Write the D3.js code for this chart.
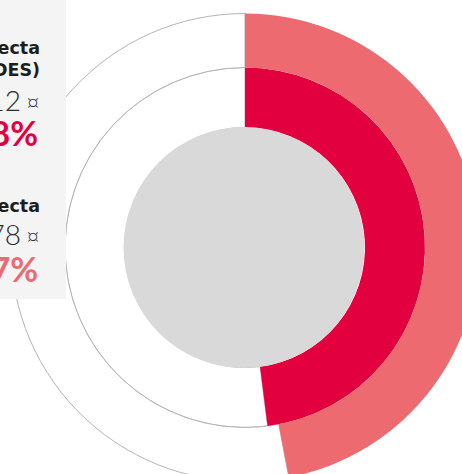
<!DOCTYPE html>
<html>
<head>
<meta charset="utf-8">
<script src="https://cdn.jsdelivr.net/npm/d3@7"></script>
<style>
  html, body { margin: 0; padding: 0; background: #fff; overflow: hidden; }
  svg { display: block; }
  text { font-family: Lato, "Open Sans", sans-serif; }
</style>
</head>
<body>
<div id="chart"></div>
<script>
// series drawn from the inside ring outwards
const seriesNames = ['Inversión directa (FONDES)', 'Inversión indirecta'];
const labelLines = [['Inversión directa', '(FONDES)'], ['Inversión indirecta']];
const amounts = ['1.245.312', '1.219.878'];
const currency = '¤';
const shares = [48, 47];
const colors = ['#e3003f', '#ec6a70'];

const width = 462, height = 474;
const cx = 245, cy = 247.5;
const ringRadii = [[120, 180], [180, 234]];
const holeRadius = 120.5;

const svg = d3.select('#chart').append('svg')
  .attr('width', width)
  .attr('height', height);

const angle = d3.scaleLinear().domain([0, 100]).range([0, 2 * Math.PI]);
const arc = d3.arc();

const g = svg.append('g').attr('transform', `translate(${cx},${cy})`);

shares.forEach((v, i) => {
  const [r0, r1] = ringRadii[i];
  // remaining part of the ring (track)
  g.append('path')
    .attr('d', arc({ innerRadius: r0, outerRadius: r1, startAngle: angle(v), endAngle: angle(100) }))
    .attr('fill', '#fff')
    .attr('stroke', '#b4b4b4')
    .attr('stroke-width', 1);
});

shares.forEach((v, i) => {
  const [r0, r1] = ringRadii[i];
  g.append('path')
    .attr('d', arc({ innerRadius: r0, outerRadius: r1, startAngle: angle(0), endAngle: angle(v) }))
    .attr('fill', colors[i]);
});

g.append('circle').attr('cx', -1).attr('r', holeRadius).attr('fill', '#d9d9d9');

// legend panel
const legend = svg.append('g');
legend.append('rect')
  .attr('x', -300).attr('y', -10)
  .attr('width', 366).attr('height', 309)
  .attr('fill', '#f4f4f4');

const tx = 40;
const blocks = [
  { lines: [54, 76], amount: 111, pct: 146 },
  { lines: [212], amount: 245, pct: 282 }
];

blocks.forEach((b, i) => {
  labelLines[i].forEach((t, j) => {
    legend.append('text')
      .attr('x', tx).attr('y', b.lines[j])
      .attr('text-anchor', 'end')
      .style('font-family', '"DejaVu Sans", sans-serif')
      .attr('font-size', 17.5).attr('font-weight', 700)
      .attr('fill', '#1d1d1b')
      .text(t);
  });
  const amt = legend.append('text')
    .attr('x', tx).attr('y', b.amount)
    .attr('text-anchor', 'end')
    .attr('font-size', 28).attr('font-weight', 300)
    .attr('fill', '#2b2b2b');
  amt.append('tspan').text(amounts[i]);
  amt.append('tspan').attr('dx', 5).attr('font-size', 24).text(currency);
  legend.append('text')
    .attr('x', tx - 2).attr('y', b.pct)
    .attr('text-anchor', 'end')
    .attr('font-size', 34).attr('font-weight', 700)
    .attr('fill', colors[i])
    .text(shares[i] + '%');
});
</script>
</body>
</html>
